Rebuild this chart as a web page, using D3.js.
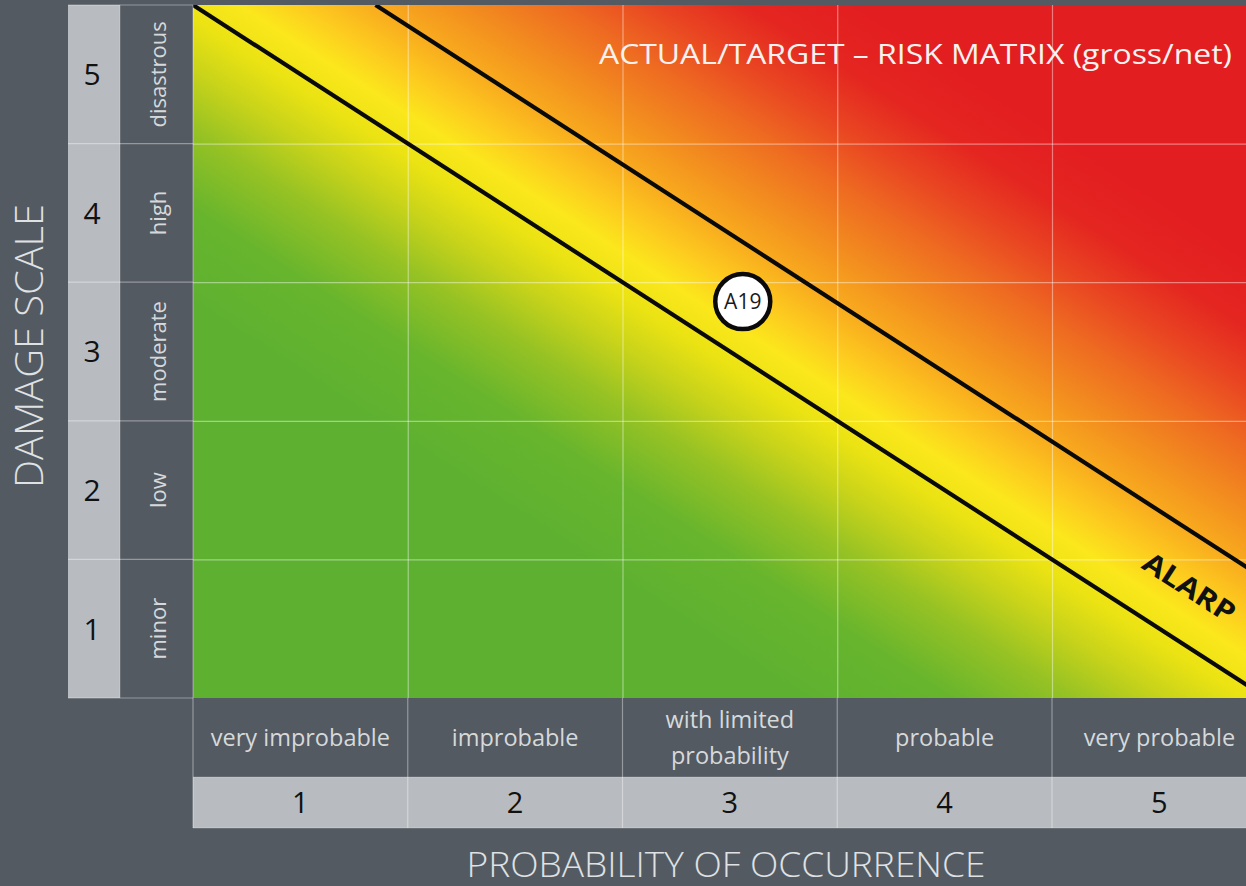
<!DOCTYPE html>
<html>
<head>
<meta charset="utf-8">
<script src="https://cdn.jsdelivr.net/npm/d3@7/dist/d3.min.js"></script>
<style>
  html, body { margin: 0; padding: 0; background: #545a62; overflow: hidden; }
  svg { display: block; }
  text { font-family: "Open Sans", "Noto Sans", sans-serif; }
</style>
</head>
<body>
<svg id="chart" width="1246" height="886"></svg>
<script>
// ---------------- DATA ----------------
const probLevels = [1, 2, 3, 4, 5];
const probLabels = [["very improbable"], ["improbable"], ["with limited", "probability"], ["probable"], ["very probable"]];
const damageLevels = [1, 2, 3, 4, 5];
const damageLabels = ["minor", "low", "moderate", "high", "disastrous"];
const riskIds = ["A19"];
const riskProb = [3.06];
const riskDamage = [3.36];
const alarpBounds = [6.0, 6.85];          // lines: probability + damage = const
const alarpLabel = ["ALARP"];
const alarpLabelAt = [5.14, 1.30];        // [probability, damage]
const titleText = "ACTUAL/TARGET – RISK MATRIX (gross/net)";
const xTitle = "PROBABILITY OF OCCURRENCE";
const yTitle = "DAMAGE SCALE";

// ---------------- STYLE ----------------
const BG = "#545a62";
const LIGHT = "#b8bcc0";
const LABEL = "#d6d9db";
const GRID = "rgba(255,255,255,0.42)";
const SEP = "rgba(255,255,255,0.38)";
const gradDist = [-250, -170, -105, -55, -12, 25, 60, 100, 150, 200, 250, 300, 360, 700];
const gradCol = ["#5eb130", "#68b52d", "#96c224", "#c8d31a", "#ebe313", "#fbe71c",
                 "#fdca1f", "#f8aa1e", "#f28a1f", "#ee6a21", "#e94522", "#e42620", "#e31e20", "#e31e20"];

const W = 1246, H = 886;
const plotL = 193, colW = 214.75, plotT = 5, plotB = 698;
const numColL = 68, numColR = 120;
const xLabelB = 777, xNumB = 828;

const svg = d3.select("#chart");
svg.append("rect").attr("width", W).attr("height", H).attr("fill", BG);

const x = d3.scaleLinear().domain([0.5, 5.5]).range([plotL, plotL + 5 * colW]);
const y = d3.scaleLinear().domain([0.5, 5.5]).range([plotB, plotT]);

// ---------- gradient, perpendicular to the ALARP lines ----------
const p0 = [x(0.5), y(alarpBounds[0] - 0.5)];
const p1 = [x(5.5), y(alarpBounds[0] - 5.5)];
const len = Math.hypot(p1[0] - p0[0], p1[1] - p0[1]);
const dir = [(p1[0] - p0[0]) / len, (p1[1] - p0[1]) / len];
const nrm = [dir[1], -dir[0]]; // toward upper right
const dMin = gradDist[0], dMax = gradDist[gradDist.length - 1];
const defs = svg.append("defs");
const grad = defs.append("linearGradient").attr("id", "riskGrad")
  .attr("gradientUnits", "userSpaceOnUse")
  .attr("x1", p0[0] + nrm[0] * dMin).attr("y1", p0[1] + nrm[1] * dMin)
  .attr("x2", p0[0] + nrm[0] * dMax).attr("y2", p0[1] + nrm[1] * dMax);
grad.selectAll("stop").data(gradDist).join("stop")
  .attr("offset", d => (d - dMin) / (dMax - dMin))
  .attr("stop-color", (d, i) => gradCol[i]);

defs.append("clipPath").attr("id", "plotClip").append("rect")
  .attr("x", x(0.5)).attr("y", y(5.5))
  .attr("width", x(5.5) - x(0.5)).attr("height", y(0.5) - y(5.5));

const plot = svg.append("g").attr("clip-path", "url(#plotClip)");
plot.append("rect")
  .attr("x", x(0.5)).attr("y", y(5.5))
  .attr("width", x(5.5) - x(0.5)).attr("height", y(0.5) - y(5.5))
  .attr("fill", "url(#riskGrad)");

// grid lines via axes
const plotH = y(0.5) - y(5.5);
const plotW = x(5.5) - x(0.5);
const gx = plot.append("g").attr("transform", `translate(0,${y(5.5)})`)
  .call(d3.axisTop(x).tickValues(probLevels.slice(1).map(v => v - 0.5)).tickSize(-plotH).tickFormat(""));
const gy = plot.append("g").attr("transform", `translate(${x(0.5)},0)`)
  .call(d3.axisLeft(y).tickValues(damageLevels.slice(1).map(v => v - 0.5)).tickSize(-plotW).tickFormat(""));
[gx, gy].forEach(g => {
  g.select(".domain").remove();
  g.selectAll(".tick line").attr("stroke", GRID).attr("stroke-width", 1.2);
});

// ALARP lines
plot.selectAll("line.alarp").data(alarpBounds).join("line")
  .attr("class", "alarp")
  .attr("x1", s => x(s - 5.5)).attr("y1", y(5.5))
  .attr("x2", s => x(6)).attr("y2", s => y(s - 6))
  .attr("stroke", "#0a0a0a").attr("stroke-width", 4.2).attr("stroke-linecap", "butt");

// ALARP label
const angle = Math.atan2(dir[1], dir[0]) * 180 / Math.PI;
plot.append("text")
  .attr("transform", `translate(${x(alarpLabelAt[0])},${y(alarpLabelAt[1])}) rotate(${angle})`)
  .attr("text-anchor", "middle").attr("dy", "0.36em")
  .attr("font-size", 28).attr("font-weight", 700).attr("fill", "#111")
  .attr("textLength", 104).attr("lengthAdjust", "spacingAndGlyphs")
  .text(alarpLabel[0]);

// risk markers
const risks = plot.selectAll("g.risk").data(riskIds).join("g").attr("class", "risk")
  .attr("transform", (d, i) => `translate(${x(riskProb[i])},${y(riskDamage[i])})`);
risks.append("circle").attr("r", 27.5).attr("fill", "#fff").attr("stroke", "#0a0a0a").attr("stroke-width", 4.5);
risks.append("text").attr("text-anchor", "middle").attr("dy", "0.36em")
  .attr("font-size", 21).attr("fill", "#1a1a1a").text(d => d);

// title
svg.append("text").attr("x", 599).attr("y", 64)
  .attr("font-size", 28).attr("fill", "#f7f2f0")
  .attr("textLength", 633).attr("lengthAdjust", "spacingAndGlyphs")
  .text(titleText);

// ---------- Y axis panel ----------
const yPanel = svg.append("g");
yPanel.append("rect").attr("x", numColL).attr("y", y(5.5))
  .attr("width", numColR - numColL).attr("height", y(0.5) - y(5.5)).attr("fill", LIGHT);
yPanel.selectAll("line.rowsep").data([0.5, 1.5, 2.5, 3.5, 4.5, 5.5]).join("line")
  .attr("class", "rowsep")
  .attr("x1", numColL).attr("x2", plotL)
  .attr("y1", d => y(d)).attr("y2", d => y(d))
  .attr("stroke", SEP).attr("stroke-width", 1.2);
yPanel.append("line").attr("x1", numColR).attr("x2", numColR)
  .attr("y1", y(5.5)).attr("y2", y(0.5)).attr("stroke", "rgba(255,255,255,0.25)");
yPanel.append("line").attr("x1", plotL).attr("x2", plotL)
  .attr("y1", y(5.5)).attr("y2", y(0.5)).attr("stroke", SEP);
yPanel.selectAll("text.ynum").data(damageLevels).join("text").attr("class", "ynum")
  .attr("x", 92).attr("y", d => y(d)).attr("dy", "0.36em")
  .attr("text-anchor", "middle").attr("font-size", 30).attr("fill", "#111")
  .text(d => d);
yPanel.selectAll("text.ylab").data(damageLabels).join("text").attr("class", "ylab")
  .attr("transform", (d, i) => `translate(166,${y(damageLevels[i])}) rotate(-90)`)
  .attr("text-anchor", "middle").attr("font-size", 22).attr("fill", LABEL)
  .text(d => d);
svg.append("text")
  .attr("transform", `translate(43,${346}) rotate(-90)`)
  .attr("text-anchor", "middle").attr("font-size", 38).attr("font-weight", 300)
  .attr("fill", "#dfe1e3").attr("textLength", 284).attr("lengthAdjust", "spacingAndGlyphs")
  .text(yTitle);

// ---------- X axis panel ----------
const xPanel = svg.append("g");
xPanel.append("rect").attr("x", x(0.5)).attr("y", xLabelB)
  .attr("width", x(5.5) - x(0.5)).attr("height", xNumB - xLabelB).attr("fill", LIGHT);
xPanel.selectAll("line.colsep").data([0.5, 1.5, 2.5, 3.5, 4.5]).join("line")
  .attr("class", "colsep")
  .attr("x1", d => x(d)).attr("x2", d => x(d))
  .attr("y1", plotB).attr("y2", xNumB)
  .attr("stroke", SEP).attr("stroke-width", 1.2);
xPanel.append("line").attr("x1", x(0.5)).attr("x2", x(5.5))
  .attr("y1", xNumB).attr("y2", xNumB).attr("stroke", "rgba(255,255,255,0.25)");
xPanel.append("line").attr("x1", x(0.5)).attr("x2", x(5.5))
  .attr("y1", xLabelB).attr("y2", xLabelB).attr("stroke", "rgba(255,255,255,0.2)");
xPanel.selectAll("text.xnum").data(probLevels).join("text").attr("class", "xnum")
  .attr("x", d => x(d)).attr("y", 803).attr("dy", "0.36em")
  .attr("text-anchor", "middle").attr("font-size", 29).attr("fill", "#111")
  .text(d => d);
const xl = xPanel.selectAll("text.xlab").data(probLabels).join("text").attr("class", "xlab")
  .attr("text-anchor", "middle").attr("font-size", 23.5).attr("fill", LABEL);
xl.each(function (lines, i) {
  const t = d3.select(this);
  const cy = 738;
  const lh = 36;
  lines.forEach((ln, k) => {
    t.append("tspan").attr("x", x(probLevels[i]))
      .attr("y", cy + (k - (lines.length - 1) / 2) * lh)
      .attr("dy", "0.36em").text(ln);
  });
});
svg.append("text").attr("x", 726).attr("y", 877)
  .attr("text-anchor", "middle").attr("font-size", 35).attr("font-weight", 300)
  .attr("fill", "#dfe1e3").attr("textLength", 519).attr("lengthAdjust", "spacingAndGlyphs")
  .text(xTitle);
</script>
</body>
</html>
